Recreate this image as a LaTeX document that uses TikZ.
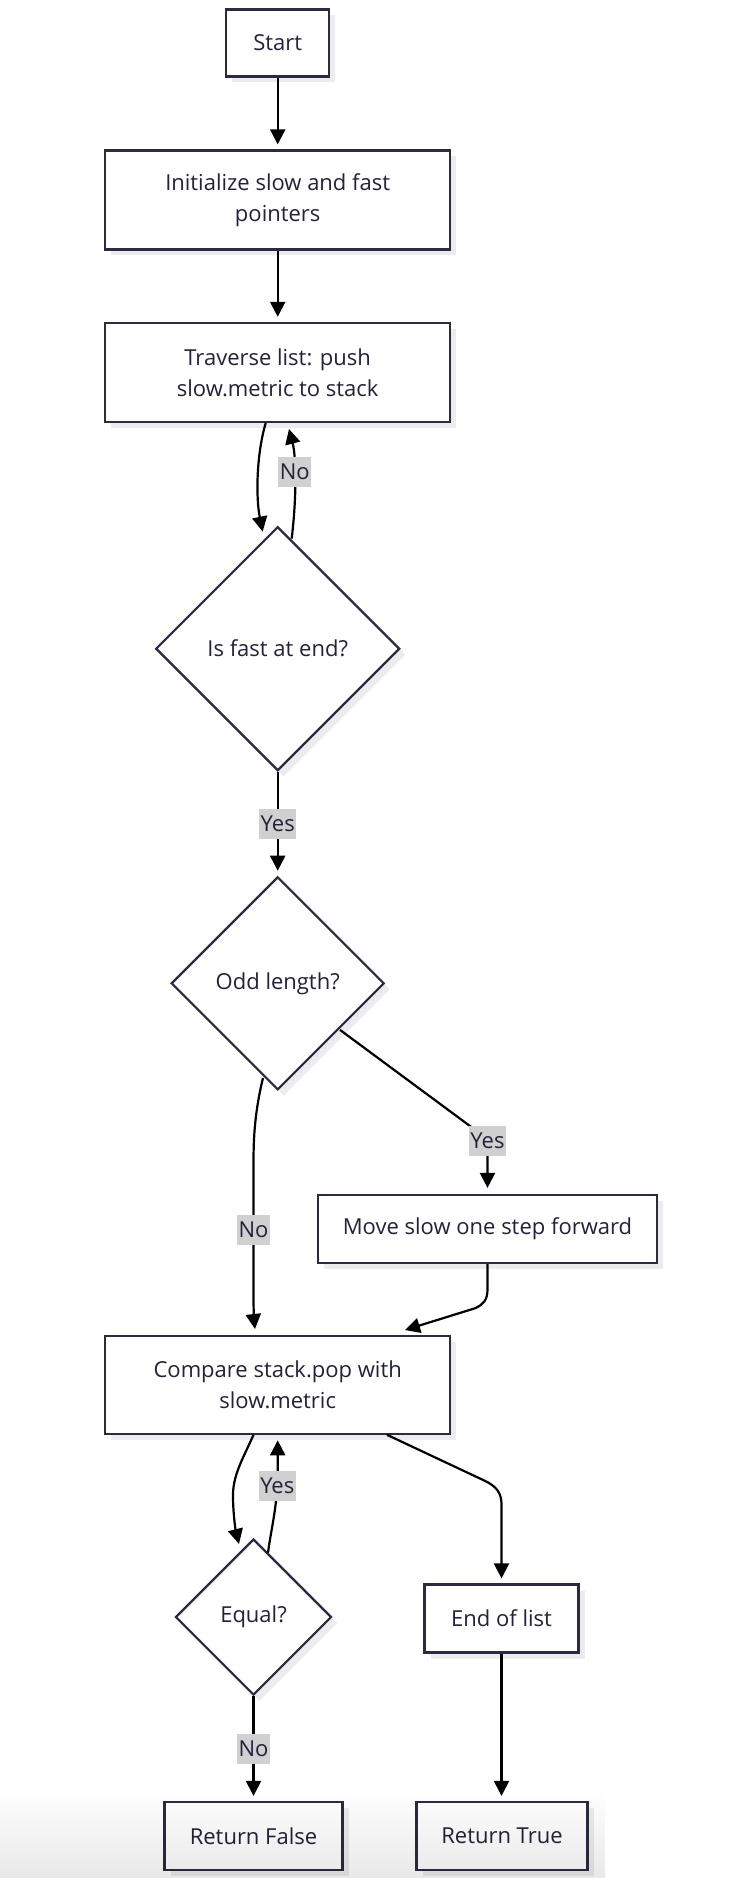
\documentclass[tikz,border=0pt]{standalone}
\usepackage{fontspec}
\setmainfont{Open Sans}
\usetikzlibrary{shapes.geometric,arrows.meta,calc,shadows,fadings}
\definecolor{nodeline}{HTML}{2B2B3F}
\definecolor{txt}{HTML}{22223A}
\definecolor{shgray}{HTML}{ECECEF}
\definecolor{lblgray}{HTML}{D0D0D0}
\begin{document}
\begin{tikzpicture}[x=1pt,y=-1pt,
  every node/.style={font=\fontsize{22}{31}\selectfont, text=txt},
  boxnode/.style={draw=nodeline, line width=2.2pt, fill=white, align=center, inner sep=0pt,
    drop shadow={shadow xshift=6pt, shadow yshift=-6pt, fill=shgray, opacity=1}},
  decision/.style={diamond, draw=nodeline, line width=2.2pt, fill=white, align=center, inner sep=0pt,
    drop shadow={shadow xshift=6pt, shadow yshift=-6pt, fill=shgray, opacity=1}},
  arr/.style={draw=black, line width=2.2pt, -{Triangle[length=15pt,width=15pt]}},
  lbl/.style={fill=lblgray, inner xsep=1.5pt, inner ysep=0pt, minimum height=30pt}
]
\useasboundingbox (0,0) rectangle (742,1878);
\fill[white] (0,0) rectangle (742,1878);

% nodes
\node[boxnode, minimum width=103pt, minimum height=67pt] (start) at (277.7,43) {Start};
\node[boxnode, minimum width=345pt, minimum height=99pt] (init) at (277.7,200) {Initialize slow and fast\\pointers};
\node[boxnode, minimum width=345pt, minimum height=99pt] (trav) at (277.7,372.4) {Traverse list: push\\slow.metric to stack};
\node[decision, minimum width=244pt, minimum height=244pt] (d1) at (277.7,648.7) {Is fast at end?};
\node[decision, minimum width=213pt, minimum height=213pt] (d2) at (277.7,983.3) {Odd length?};
\node[boxnode, minimum width=339pt, minimum height=68pt] (move) at (487.5,1229) {Move slow one step forward};
\node[boxnode, minimum width=345pt, minimum height=98pt] (cmp) at (277.7,1384.7) {Compare stack.pop with\\slow.metric};
\node[decision, minimum width=156pt, minimum height=156pt] (eq) at (253.5,1617) {Equal?};
\node[boxnode, minimum width=154pt, minimum height=68pt] (eol) at (501.5,1618.5) {End of list};
\node[boxnode, minimum width=178pt, minimum height=68pt] (rf) at (253.5,1836) {Return False};
\node[boxnode, minimum width=171pt, minimum height=68pt] (rt) at (502,1836) {Return True};

% edges
\draw[arr, shorten >=5pt] (start) -- (init);
\draw[arr, shorten >=5pt] (init) -- (trav);
\draw[arr] ($(trav.south)+(-12,0)$) .. controls ($(trav.south)+(-21.7,33)$) and ($(d1.north)+(-21.7,-26.7)$) .. ($(d1.north)+(-15,6)$);
\draw[arr] ($(d1.north)+(14,13)$) .. controls ($(d1.north)+(19.3,-31.7)$) and ($(trav.south)+(18.3,33)$) .. ($(trav.south)+(11.3,6)$) node[lbl, pos=0.55] {No};
\draw[arr, shorten >=5pt] (d1.south) -- node[lbl] {Yes} (d2.north);
\draw[arr] ($(d2.south)+(62.3,-61)$) -- ($(move.north)+(-5.5,-59)$) .. controls ($(move.north)+(0,-55)$) and ($(move.north)+(0,-52)$) .. ($(move.north)+(0,-45)$) -- ($(move.north)+(0,-6)$);
\node[lbl] at ($(move.north)+(0,-53)$) {Yes};
\draw[arr] (move.south) -- ($(move.south)+(0,25)$) .. controls ($(move.south)+(0,36)$) and ($(move.south)+(-4,40)$) .. ($(move.south)+(-12,44)$) -- ($(cmp.north)+(127.3,-4.6)$);
\draw[arr] ($(d2.south)+(-14.7,-13)$) .. controls ($(d2.south)+(-22.7,20)$) and ($(d2.south)+(-24.2,45)$) .. ($(d2.south)+(-24.2,72)$) -- node[lbl] {No} ($(cmp.north)+(-24.2,-38)$) .. controls ($(cmp.north)+(-24.2,-20)$) and ($(cmp.north)+(-23.2,-10)$) .. ($(cmp.north)+(-22.7,-5.6)$);
\draw[arr] ($(cmp.south)+(-24.2,0)$) .. controls ($(cmp.south)+(-34.7,24)$) and ($(cmp.south)+(-45.7,41)$) .. ($(eq.north)+(-20.5,-39)$) .. controls ($(eq.north)+(-20,-19)$) and ($(eq.north)+(-17.5,-6)$) .. ($(eq.north)+(-14.5,6)$);
\draw[arr] ($(eq.north)+(14.5,15)$) .. controls ($(eq.north)+(17.5,-9)$) and ($(cmp.south)+(0,71)$) .. ($(cmp.south)+(0,36)$) node[lbl, pos=0.85] {Yes} -- ($(cmp.south)+(0,5.5)$);
\draw[arr] ($(cmp.south)+(109.3,0)$) -- ($(eol.north)+(-17.5,-103)$) .. controls ($(eol.north)+(-4.5,-97)$) and ($(eol.north)+(0,-90)$) .. ($(eol.north)+(0,-79)$) -- ($(eol.north)+(0,-5)$);
\draw[arr, shorten >=5pt] (eq.south) -- node[lbl] {No} (rf.north);
\draw[arr, shorten >=5pt] (eol.south) -- (eol.south |- rt.north);

% bottom fade
\fill[black, opacity=0.09, path fading=north] (0,1790) rectangle (606,1878);
\end{tikzpicture}
\end{document}
